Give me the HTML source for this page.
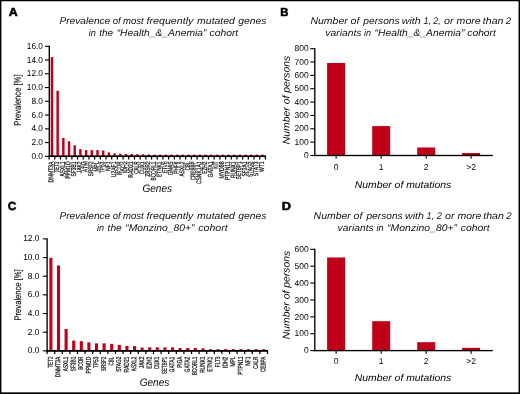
<!DOCTYPE html>
<html><head><meta charset="utf-8"><title>Figure</title>
<style>
html,body{margin:0;padding:0;background:#fff;}
svg{display:block;}
text{font-family:"Liberation Sans",sans-serif;text-rendering:geometricPrecision;}
</style></head><body>
<svg width="520" height="394" viewBox="0 0 520 394">
<defs><filter id="soft" x="0" y="0" width="520" height="394" filterUnits="userSpaceOnUse" color-interpolation-filters="sRGB"><feOffset dx="0" dy="0"/></filter></defs>
<rect x="0" y="0" width="520" height="394" fill="#fff"/>
<g filter="url(#soft)">
<rect x="-5" y="-5" width="530" height="404" fill="#fff"/>
<rect x="0.00" y="0.00" width="520.00" height="1.25" fill="#000"/>
<rect x="0.00" y="392.35" width="520.00" height="1.65" fill="#000"/>
<rect x="0.00" y="0.00" width="1.40" height="394.00" fill="#000"/>
<rect x="518.55" y="0.00" width="1.45" height="394.00" fill="#000"/>
<text x="8.75" y="16.30" font-size="11.75" text-anchor="start" fill="#000" font-weight="bold" textLength="9.00" lengthAdjust="spacingAndGlyphs" stroke="#000" stroke-width="0.55" stroke-linejoin="round">A</text>
<text x="280.30" y="16.30" font-size="11.75" text-anchor="start" fill="#000" font-weight="bold" textLength="8.20" lengthAdjust="spacingAndGlyphs" stroke="#000" stroke-width="0.55" stroke-linejoin="round">B</text>
<text x="7.75" y="210.10" font-size="11.75" text-anchor="start" fill="#000" font-weight="bold" textLength="8.60" lengthAdjust="spacingAndGlyphs" stroke="#000" stroke-width="0.55" stroke-linejoin="round">C</text>
<text x="281.80" y="209.65" font-size="11.75" text-anchor="start" fill="#000" font-weight="bold" textLength="9.20" lengthAdjust="spacingAndGlyphs" stroke="#000" stroke-width="0.55" stroke-linejoin="round">D</text>
<text x="59.45" y="23.85" font-size="9.7" text-anchor="start" fill="#111" font-style="italic" textLength="50.82" lengthAdjust="spacingAndGlyphs" >Prevalence</text>
<text x="112.69" y="23.85" font-size="9.7" text-anchor="start" fill="#111" font-style="italic" textLength="7.89" lengthAdjust="spacingAndGlyphs" >of</text>
<text x="122.96" y="23.85" font-size="9.7" text-anchor="start" fill="#111" font-style="italic" textLength="20.80" lengthAdjust="spacingAndGlyphs" >most</text>
<text x="146.53" y="23.85" font-size="9.7" text-anchor="start" fill="#111" font-style="italic" textLength="46.86" lengthAdjust="spacingAndGlyphs" >frequently</text>
<text x="197.14" y="23.85" font-size="9.7" text-anchor="start" fill="#111" font-style="italic" textLength="37.78" lengthAdjust="spacingAndGlyphs" >mutated</text>
<text x="238.37" y="23.85" font-size="9.7" text-anchor="start" fill="#111" font-style="italic" textLength="28.13" lengthAdjust="spacingAndGlyphs" >genes</text>
<text x="88.68" y="36.00" font-size="9.7" text-anchor="start" fill="#111" font-style="italic" textLength="7.10" lengthAdjust="spacingAndGlyphs" >in</text>
<text x="99.30" y="36.00" font-size="9.7" text-anchor="start" fill="#111" font-style="italic" textLength="13.80" lengthAdjust="spacingAndGlyphs" >the</text>
<text x="116.65" y="36.00" font-size="9.7" text-anchor="start" fill="#111" font-style="italic" textLength="89.75" lengthAdjust="spacingAndGlyphs" >“Health_&amp;_Anemia”</text>
<text x="209.56" y="36.00" font-size="9.7" text-anchor="start" fill="#111" font-style="italic" textLength="28.67" lengthAdjust="spacingAndGlyphs" >cohort</text>
<text x="59.45" y="219.00" font-size="9.7" text-anchor="start" fill="#111" font-style="italic" textLength="50.82" lengthAdjust="spacingAndGlyphs" >Prevalence</text>
<text x="112.69" y="219.00" font-size="9.7" text-anchor="start" fill="#111" font-style="italic" textLength="7.89" lengthAdjust="spacingAndGlyphs" >of</text>
<text x="122.96" y="219.00" font-size="9.7" text-anchor="start" fill="#111" font-style="italic" textLength="20.80" lengthAdjust="spacingAndGlyphs" >most</text>
<text x="146.53" y="219.00" font-size="9.7" text-anchor="start" fill="#111" font-style="italic" textLength="46.86" lengthAdjust="spacingAndGlyphs" >frequently</text>
<text x="197.14" y="219.00" font-size="9.7" text-anchor="start" fill="#111" font-style="italic" textLength="37.78" lengthAdjust="spacingAndGlyphs" >mutated</text>
<text x="238.37" y="219.00" font-size="9.7" text-anchor="start" fill="#111" font-style="italic" textLength="28.13" lengthAdjust="spacingAndGlyphs" >genes</text>
<text x="97.08" y="230.50" font-size="9.7" text-anchor="start" fill="#111" font-style="italic" textLength="7.10" lengthAdjust="spacingAndGlyphs" >in</text>
<text x="107.59" y="230.50" font-size="9.7" text-anchor="start" fill="#111" font-style="italic" textLength="14.17" lengthAdjust="spacingAndGlyphs" >the</text>
<text x="125.30" y="230.50" font-size="9.7" text-anchor="start" fill="#111" font-style="italic" textLength="69.12" lengthAdjust="spacingAndGlyphs" >“Monzino_80+”</text>
<text x="198.36" y="230.50" font-size="9.7" text-anchor="start" fill="#111" font-style="italic" textLength="29.27" lengthAdjust="spacingAndGlyphs" >cohort</text>
<text x="310.49" y="23.80" font-size="9.7" text-anchor="start" fill="#111" font-style="italic" textLength="37.27" lengthAdjust="spacingAndGlyphs" >Number</text>
<text x="350.52" y="23.80" font-size="9.7" text-anchor="start" fill="#111" font-style="italic" textLength="8.90" lengthAdjust="spacingAndGlyphs" >of</text>
<text x="363.35" y="23.80" font-size="9.7" text-anchor="start" fill="#111" font-style="italic" textLength="36.25" lengthAdjust="spacingAndGlyphs" >persons</text>
<text x="401.74" y="23.80" font-size="9.7" text-anchor="start" fill="#111" font-style="italic" textLength="18.98" lengthAdjust="spacingAndGlyphs" >with</text>
<text x="423.41" y="23.80" font-size="9.7" text-anchor="start" fill="#111" font-style="italic" textLength="7.60" lengthAdjust="spacingAndGlyphs" >1,</text>
<text x="433.31" y="23.80" font-size="9.7" text-anchor="start" fill="#111" font-style="italic" textLength="7.60" lengthAdjust="spacingAndGlyphs" >2,</text>
<text x="443.96" y="23.80" font-size="9.7" text-anchor="start" fill="#111" font-style="italic" textLength="9.49" lengthAdjust="spacingAndGlyphs" >or</text>
<text x="456.64" y="23.80" font-size="9.7" text-anchor="start" fill="#111" font-style="italic" textLength="24.04" lengthAdjust="spacingAndGlyphs" >more</text>
<text x="482.83" y="23.80" font-size="9.7" text-anchor="start" fill="#111" font-style="italic" textLength="20.54" lengthAdjust="spacingAndGlyphs" >than</text>
<text x="505.87" y="23.80" font-size="9.7" text-anchor="start" fill="#111" font-style="italic" textLength="5.36" lengthAdjust="spacingAndGlyphs" >2</text>
<text x="325.33" y="35.90" font-size="9.7" text-anchor="start" fill="#111" font-style="italic" textLength="36.06" lengthAdjust="spacingAndGlyphs" >variants</text>
<text x="363.98" y="35.90" font-size="9.7" text-anchor="start" fill="#111" font-style="italic" textLength="7.10" lengthAdjust="spacingAndGlyphs" >in</text>
<text x="374.55" y="35.90" font-size="9.7" text-anchor="start" fill="#111" font-style="italic" textLength="89.95" lengthAdjust="spacingAndGlyphs" >“Health_&amp;_Anemia”</text>
<text x="467.26" y="35.90" font-size="9.7" text-anchor="start" fill="#111" font-style="italic" textLength="28.67" lengthAdjust="spacingAndGlyphs" >cohort</text>
<text x="313.59" y="219.10" font-size="9.7" text-anchor="start" fill="#111" font-style="italic" textLength="37.27" lengthAdjust="spacingAndGlyphs" >Number</text>
<text x="353.62" y="219.10" font-size="9.7" text-anchor="start" fill="#111" font-style="italic" textLength="8.90" lengthAdjust="spacingAndGlyphs" >of</text>
<text x="366.45" y="219.10" font-size="9.7" text-anchor="start" fill="#111" font-style="italic" textLength="36.20" lengthAdjust="spacingAndGlyphs" >persons</text>
<text x="404.94" y="219.10" font-size="9.7" text-anchor="start" fill="#111" font-style="italic" textLength="18.98" lengthAdjust="spacingAndGlyphs" >with</text>
<text x="426.46" y="219.10" font-size="9.7" text-anchor="start" fill="#111" font-style="italic" textLength="7.60" lengthAdjust="spacingAndGlyphs" >1,</text>
<text x="436.87" y="219.10" font-size="9.7" text-anchor="start" fill="#111" font-style="italic" textLength="5.11" lengthAdjust="spacingAndGlyphs" >2</text>
<text x="445.08" y="219.10" font-size="9.7" text-anchor="start" fill="#111" font-style="italic" textLength="9.49" lengthAdjust="spacingAndGlyphs" >or</text>
<text x="457.44" y="219.10" font-size="9.7" text-anchor="start" fill="#111" font-style="italic" textLength="23.83" lengthAdjust="spacingAndGlyphs" >more</text>
<text x="483.27" y="219.10" font-size="9.7" text-anchor="start" fill="#111" font-style="italic" textLength="20.59" lengthAdjust="spacingAndGlyphs" >than</text>
<text x="506.22" y="219.10" font-size="9.7" text-anchor="start" fill="#111" font-style="italic" textLength="5.41" lengthAdjust="spacingAndGlyphs" >2</text>
<text x="337.63" y="230.50" font-size="9.7" text-anchor="start" fill="#111" font-style="italic" textLength="36.06" lengthAdjust="spacingAndGlyphs" >variants</text>
<text x="376.56" y="230.50" font-size="9.7" text-anchor="start" fill="#111" font-style="italic" textLength="7.13" lengthAdjust="spacingAndGlyphs" >in</text>
<text x="387.14" y="230.50" font-size="9.7" text-anchor="start" fill="#111" font-style="italic" textLength="69.98" lengthAdjust="spacingAndGlyphs" >“Monzino_80+”</text>
<text x="460.76" y="230.50" font-size="9.7" text-anchor="start" fill="#111" font-style="italic" textLength="28.97" lengthAdjust="spacingAndGlyphs" >cohort</text>
<rect x="48.62" y="45.75" width="1.35" height="111.23" fill="#000"/>
<rect x="45.00" y="155.75" width="4.30" height="1.10" fill="#000"/>
<text x="43.00" y="158.75" font-size="8.7" text-anchor="end" fill="#000" textLength="11.55" lengthAdjust="spacingAndGlyphs" >0.0</text>
<rect x="45.00" y="142.00" width="4.30" height="1.10" fill="#000"/>
<text x="43.00" y="145.00" font-size="8.7" text-anchor="end" fill="#000" textLength="11.55" lengthAdjust="spacingAndGlyphs" >2.0</text>
<rect x="45.00" y="128.25" width="4.30" height="1.10" fill="#000"/>
<text x="43.00" y="131.25" font-size="8.7" text-anchor="end" fill="#000" textLength="11.55" lengthAdjust="spacingAndGlyphs" >4.0</text>
<rect x="45.00" y="114.50" width="4.30" height="1.10" fill="#000"/>
<text x="43.00" y="117.50" font-size="8.7" text-anchor="end" fill="#000" textLength="11.55" lengthAdjust="spacingAndGlyphs" >6.0</text>
<rect x="45.00" y="100.75" width="4.30" height="1.10" fill="#000"/>
<text x="43.00" y="103.75" font-size="8.7" text-anchor="end" fill="#000" textLength="11.55" lengthAdjust="spacingAndGlyphs" >8.0</text>
<rect x="45.00" y="87.00" width="4.30" height="1.10" fill="#000"/>
<text x="43.00" y="90.00" font-size="8.7" text-anchor="end" fill="#000" textLength="16.15" lengthAdjust="spacingAndGlyphs" >10.0</text>
<rect x="45.00" y="73.25" width="4.30" height="1.10" fill="#000"/>
<text x="43.00" y="76.25" font-size="8.7" text-anchor="end" fill="#000" textLength="16.15" lengthAdjust="spacingAndGlyphs" >12.0</text>
<rect x="45.00" y="59.50" width="4.30" height="1.10" fill="#000"/>
<text x="43.00" y="62.50" font-size="8.7" text-anchor="end" fill="#000" textLength="16.15" lengthAdjust="spacingAndGlyphs" >14.0</text>
<rect x="45.00" y="45.75" width="4.30" height="1.10" fill="#000"/>
<text x="43.00" y="48.75" font-size="8.7" text-anchor="end" fill="#000" textLength="16.15" lengthAdjust="spacingAndGlyphs" >16.0</text>
<rect x="48.62" y="155.57" width="217.32" height="1.45" fill="#000"/>
<rect x="50.72" y="57.10" width="2.45" height="99.20" fill="#c00019"/>
<rect x="56.41" y="90.80" width="2.45" height="65.50" fill="#c00019"/>
<rect x="62.10" y="138.00" width="2.45" height="18.30" fill="#c00019"/>
<rect x="67.80" y="141.30" width="2.45" height="15.00" fill="#c00019"/>
<rect x="73.49" y="145.30" width="2.45" height="11.00" fill="#c00019"/>
<rect x="79.18" y="149.10" width="2.45" height="7.20" fill="#c00019"/>
<rect x="84.87" y="150.10" width="2.45" height="6.20" fill="#c00019"/>
<rect x="90.56" y="150.10" width="2.45" height="6.20" fill="#c00019"/>
<rect x="96.26" y="150.10" width="2.45" height="6.20" fill="#c00019"/>
<rect x="101.95" y="150.50" width="2.45" height="5.80" fill="#c00019"/>
<rect x="107.64" y="152.40" width="2.45" height="3.90" fill="#c00019"/>
<rect x="113.33" y="153.40" width="2.45" height="2.90" fill="#c00019"/>
<rect x="119.03" y="153.70" width="2.45" height="2.60" fill="#c00019"/>
<rect x="124.72" y="153.95" width="2.45" height="2.35" fill="#c00019"/>
<rect x="130.41" y="154.00" width="2.45" height="2.30" fill="#c00019"/>
<rect x="136.10" y="154.20" width="2.45" height="2.10" fill="#c00019"/>
<rect x="141.79" y="154.30" width="2.45" height="2.00" fill="#c00019"/>
<rect x="147.49" y="154.45" width="2.45" height="1.85" fill="#c00019"/>
<rect x="153.18" y="154.65" width="2.45" height="1.65" fill="#c00019"/>
<rect x="158.87" y="154.65" width="2.45" height="1.65" fill="#c00019"/>
<rect x="164.56" y="154.65" width="2.45" height="1.65" fill="#c00019"/>
<rect x="170.25" y="154.65" width="2.45" height="1.65" fill="#c00019"/>
<rect x="175.94" y="154.65" width="2.45" height="1.65" fill="#c00019"/>
<rect x="181.64" y="154.65" width="2.45" height="1.65" fill="#c00019"/>
<rect x="187.33" y="154.65" width="2.45" height="1.65" fill="#c00019"/>
<rect x="193.02" y="154.65" width="2.45" height="1.65" fill="#c00019"/>
<rect x="198.71" y="154.65" width="2.45" height="1.65" fill="#c00019"/>
<rect x="204.41" y="154.65" width="2.45" height="1.65" fill="#c00019"/>
<rect x="210.10" y="154.65" width="2.45" height="1.65" fill="#c00019"/>
<rect x="215.79" y="154.65" width="2.45" height="1.65" fill="#c00019"/>
<rect x="221.48" y="154.65" width="2.45" height="1.65" fill="#c00019"/>
<rect x="227.17" y="154.65" width="2.45" height="1.65" fill="#c00019"/>
<rect x="232.87" y="154.65" width="2.45" height="1.65" fill="#c00019"/>
<rect x="238.56" y="154.65" width="2.45" height="1.65" fill="#c00019"/>
<rect x="244.25" y="154.65" width="2.45" height="1.65" fill="#c00019"/>
<rect x="249.94" y="154.65" width="2.45" height="1.65" fill="#c00019"/>
<rect x="255.63" y="154.65" width="2.45" height="1.65" fill="#c00019"/>
<rect x="261.32" y="154.65" width="2.45" height="1.65" fill="#c00019"/>
<rect x="48.62" y="155.57" width="217.32" height="1.45" fill="#000"/>
<rect x="48.48" y="156.30" width="1.24" height="3.25" fill="#000"/>
<rect x="54.17" y="156.30" width="1.24" height="3.25" fill="#000"/>
<rect x="59.86" y="156.30" width="1.24" height="3.25" fill="#000"/>
<rect x="65.56" y="156.30" width="1.24" height="3.25" fill="#000"/>
<rect x="71.25" y="156.30" width="1.24" height="3.25" fill="#000"/>
<rect x="76.94" y="156.30" width="1.24" height="3.25" fill="#000"/>
<rect x="82.63" y="156.30" width="1.24" height="3.25" fill="#000"/>
<rect x="88.32" y="156.30" width="1.24" height="3.25" fill="#000"/>
<rect x="94.02" y="156.30" width="1.24" height="3.25" fill="#000"/>
<rect x="99.71" y="156.30" width="1.24" height="3.25" fill="#000"/>
<rect x="105.40" y="156.30" width="1.24" height="3.25" fill="#000"/>
<rect x="111.09" y="156.30" width="1.24" height="3.25" fill="#000"/>
<rect x="116.78" y="156.30" width="1.24" height="3.25" fill="#000"/>
<rect x="122.48" y="156.30" width="1.24" height="3.25" fill="#000"/>
<rect x="128.17" y="156.30" width="1.24" height="3.25" fill="#000"/>
<rect x="133.86" y="156.30" width="1.24" height="3.25" fill="#000"/>
<rect x="139.55" y="156.30" width="1.24" height="3.25" fill="#000"/>
<rect x="145.24" y="156.30" width="1.24" height="3.25" fill="#000"/>
<rect x="150.94" y="156.30" width="1.24" height="3.25" fill="#000"/>
<rect x="156.63" y="156.30" width="1.24" height="3.25" fill="#000"/>
<rect x="162.32" y="156.30" width="1.24" height="3.25" fill="#000"/>
<rect x="168.01" y="156.30" width="1.24" height="3.25" fill="#000"/>
<rect x="173.70" y="156.30" width="1.24" height="3.25" fill="#000"/>
<rect x="179.40" y="156.30" width="1.24" height="3.25" fill="#000"/>
<rect x="185.09" y="156.30" width="1.24" height="3.25" fill="#000"/>
<rect x="190.78" y="156.30" width="1.24" height="3.25" fill="#000"/>
<rect x="196.47" y="156.30" width="1.24" height="3.25" fill="#000"/>
<rect x="202.16" y="156.30" width="1.24" height="3.25" fill="#000"/>
<rect x="207.86" y="156.30" width="1.24" height="3.25" fill="#000"/>
<rect x="213.55" y="156.30" width="1.24" height="3.25" fill="#000"/>
<rect x="219.24" y="156.30" width="1.24" height="3.25" fill="#000"/>
<rect x="224.93" y="156.30" width="1.24" height="3.25" fill="#000"/>
<rect x="230.62" y="156.30" width="1.24" height="3.25" fill="#000"/>
<rect x="236.32" y="156.30" width="1.24" height="3.25" fill="#000"/>
<rect x="242.01" y="156.30" width="1.24" height="3.25" fill="#000"/>
<rect x="247.70" y="156.30" width="1.24" height="3.25" fill="#000"/>
<rect x="253.39" y="156.30" width="1.24" height="3.25" fill="#000"/>
<rect x="259.08" y="156.30" width="1.24" height="3.25" fill="#000"/>
<rect x="264.78" y="156.30" width="1.24" height="3.25" fill="#000"/>
<text font-size="7.0" text-anchor="end" fill="#111" textLength="20.99" lengthAdjust="spacingAndGlyphs" transform="translate(53.30,161.50) rotate(-89.95)" stroke="#111" stroke-width="0.24">DNMT3A</text>
<text font-size="7.0" text-anchor="end" fill="#111" textLength="11.09" lengthAdjust="spacingAndGlyphs" transform="translate(58.99,161.50) rotate(-89.95)" stroke="#111" stroke-width="0.24">TET2</text>
<text font-size="7.0" text-anchor="end" fill="#111" textLength="14.92" lengthAdjust="spacingAndGlyphs" transform="translate(64.68,161.50) rotate(-89.95)" stroke="#111" stroke-width="0.24">ASXL1</text>
<text font-size="7.0" text-anchor="end" fill="#111" textLength="17.23" lengthAdjust="spacingAndGlyphs" transform="translate(70.37,161.50) rotate(-89.95)" stroke="#111" stroke-width="0.24">PPM1D</text>
<text font-size="7.0" text-anchor="end" fill="#111" textLength="14.92" lengthAdjust="spacingAndGlyphs" transform="translate(76.06,161.50) rotate(-89.95)" stroke="#111" stroke-width="0.24">SF3B1</text>
<text font-size="7.0" text-anchor="end" fill="#111" textLength="11.81" lengthAdjust="spacingAndGlyphs" transform="translate(81.76,161.50) rotate(-89.95)" stroke="#111" stroke-width="0.24">JAK2</text>
<text font-size="7.0" text-anchor="end" fill="#111" textLength="10.63" lengthAdjust="spacingAndGlyphs" transform="translate(87.45,161.50) rotate(-89.95)" stroke="#111" stroke-width="0.24">ATM</text>
<text font-size="7.0" text-anchor="end" fill="#111" textLength="14.65" lengthAdjust="spacingAndGlyphs" transform="translate(93.14,161.50) rotate(-89.95)" stroke="#111" stroke-width="0.24">SRSF2</text>
<text font-size="7.0" text-anchor="end" fill="#111" textLength="10.10" lengthAdjust="spacingAndGlyphs" transform="translate(98.83,161.50) rotate(-89.95)" stroke="#111" stroke-width="0.24">MPL</text>
<text font-size="7.0" text-anchor="end" fill="#111" textLength="11.75" lengthAdjust="spacingAndGlyphs" transform="translate(104.52,161.50) rotate(-89.95)" stroke="#111" stroke-width="0.24">TP53</text>
<text font-size="7.0" text-anchor="end" fill="#111" textLength="9.44" lengthAdjust="spacingAndGlyphs" transform="translate(110.22,161.50) rotate(-89.95)" stroke="#111" stroke-width="0.24">NF1</text>
<text font-size="7.0" text-anchor="end" fill="#111" textLength="15.71" lengthAdjust="spacingAndGlyphs" transform="translate(115.91,161.50) rotate(-89.95)" stroke="#111" stroke-width="0.24">U2AF1</text>
<text font-size="7.0" text-anchor="end" fill="#111" textLength="13.46" lengthAdjust="spacingAndGlyphs" transform="translate(121.60,161.50) rotate(-89.95)" stroke="#111" stroke-width="0.24">BCOR</text>
<text font-size="7.0" text-anchor="end" fill="#111" textLength="11.55" lengthAdjust="spacingAndGlyphs" transform="translate(127.29,161.50) rotate(-89.95)" stroke="#111" stroke-width="0.24">IDH2</text>
<text font-size="7.0" text-anchor="end" fill="#111" textLength="16.24" lengthAdjust="spacingAndGlyphs" transform="translate(132.98,161.50) rotate(-89.95)" stroke="#111" stroke-width="0.24">RAD21</text>
<text font-size="7.0" text-anchor="end" fill="#111" textLength="12.28" lengthAdjust="spacingAndGlyphs" transform="translate(138.68,161.50) rotate(-89.95)" stroke="#111" stroke-width="0.24">CALR</text>
<text font-size="7.0" text-anchor="end" fill="#111" textLength="12.80" lengthAdjust="spacingAndGlyphs" transform="translate(144.37,161.50) rotate(-89.95)" stroke="#111" stroke-width="0.24">CUX1</text>
<text font-size="7.0" text-anchor="end" fill="#111" textLength="15.18" lengthAdjust="spacingAndGlyphs" transform="translate(150.06,161.50) rotate(-89.95)" stroke="#111" stroke-width="0.24">ZRSR2</text>
<text font-size="7.0" text-anchor="end" fill="#111" textLength="19.01" lengthAdjust="spacingAndGlyphs" transform="translate(155.75,161.50) rotate(-89.95)" stroke="#111" stroke-width="0.24">BCORL1</text>
<text font-size="7.0" text-anchor="end" fill="#111" textLength="15.38" lengthAdjust="spacingAndGlyphs" transform="translate(161.44,161.50) rotate(-89.95)" stroke="#111" stroke-width="0.24">ETNK1</text>
<text font-size="7.0" text-anchor="end" fill="#111" textLength="11.62" lengthAdjust="spacingAndGlyphs" transform="translate(167.14,161.50) rotate(-89.95)" stroke="#111" stroke-width="0.24">ETV6</text>
<text font-size="7.0" text-anchor="end" fill="#111" textLength="13.66" lengthAdjust="spacingAndGlyphs" transform="translate(172.83,161.50) rotate(-89.95)" stroke="#111" stroke-width="0.24">GNAS</text>
<text font-size="7.0" text-anchor="end" fill="#111" textLength="12.34" lengthAdjust="spacingAndGlyphs" transform="translate(178.52,161.50) rotate(-89.95)" stroke="#111" stroke-width="0.24">PHF6</text>
<text font-size="7.0" text-anchor="end" fill="#111" textLength="14.92" lengthAdjust="spacingAndGlyphs" transform="translate(184.21,161.50) rotate(-89.95)" stroke="#111" stroke-width="0.24">ASXL2</text>
<text font-size="7.0" text-anchor="end" fill="#111" textLength="8.98" lengthAdjust="spacingAndGlyphs" transform="translate(189.90,161.50) rotate(-89.95)" stroke="#111" stroke-width="0.24">CBL</text>
<text font-size="7.0" text-anchor="end" fill="#111" textLength="18.74" lengthAdjust="spacingAndGlyphs" transform="translate(195.60,161.50) rotate(-89.95)" stroke="#111" stroke-width="0.24">CREBBP</text>
<text font-size="7.0" text-anchor="end" fill="#111" textLength="22.51" lengthAdjust="spacingAndGlyphs" transform="translate(201.29,161.50) rotate(-89.95)" stroke="#111" stroke-width="0.24">CSNK1A1</text>
<text font-size="7.0" text-anchor="end" fill="#111" textLength="12.34" lengthAdjust="spacingAndGlyphs" transform="translate(206.98,161.50) rotate(-89.95)" stroke="#111" stroke-width="0.24">EZH2</text>
<text font-size="7.0" text-anchor="end" fill="#111" textLength="16.10" lengthAdjust="spacingAndGlyphs" transform="translate(212.67,161.50) rotate(-89.95)" stroke="#111" stroke-width="0.24">GATA1</text>
<text font-size="7.0" text-anchor="end" fill="#111" textLength="7.13" lengthAdjust="spacingAndGlyphs" transform="translate(218.36,161.50) rotate(-89.95)" stroke="#111" stroke-width="0.24">KIT</text>
<text font-size="7.0" text-anchor="end" fill="#111" textLength="17.09" lengthAdjust="spacingAndGlyphs" transform="translate(224.06,161.50) rotate(-89.95)" stroke="#111" stroke-width="0.24">MYD88</text>
<text font-size="7.0" text-anchor="end" fill="#111" textLength="18.55" lengthAdjust="spacingAndGlyphs" transform="translate(229.75,161.50) rotate(-89.95)" stroke="#111" stroke-width="0.24">PTPN11</text>
<text font-size="7.0" text-anchor="end" fill="#111" textLength="16.57" lengthAdjust="spacingAndGlyphs" transform="translate(235.44,161.50) rotate(-89.95)" stroke="#111" stroke-width="0.24">RUNX1</text>
<text font-size="7.0" text-anchor="end" fill="#111" textLength="17.69" lengthAdjust="spacingAndGlyphs" transform="translate(241.13,161.50) rotate(-89.95)" stroke="#111" stroke-width="0.24">SETBP1</text>
<text font-size="7.0" text-anchor="end" fill="#111" textLength="15.05" lengthAdjust="spacingAndGlyphs" transform="translate(246.82,161.50) rotate(-89.95)" stroke="#111" stroke-width="0.24">SF3A1</text>
<text font-size="7.0" text-anchor="end" fill="#111" textLength="15.58" lengthAdjust="spacingAndGlyphs" transform="translate(252.52,161.50) rotate(-89.95)" stroke="#111" stroke-width="0.24">STAG2</text>
<text font-size="7.0" text-anchor="end" fill="#111" textLength="14.65" lengthAdjust="spacingAndGlyphs" transform="translate(258.21,161.50) rotate(-89.95)" stroke="#111" stroke-width="0.24">STAT3</text>
<text font-size="7.0" text-anchor="end" fill="#111" textLength="10.43" lengthAdjust="spacingAndGlyphs" transform="translate(263.90,161.50) rotate(-89.95)" stroke="#111" stroke-width="0.24">WT1</text>
<text font-size="9.5" text-anchor="middle" fill="#000" textLength="51.20" lengthAdjust="spacingAndGlyphs" transform="translate(20.80,100.10) rotate(-89.96)" stroke="#000" stroke-width="0.12">Prevalence [%]</text>
<text x="157.20" y="191.95" font-size="10.9" text-anchor="middle" fill="#000" font-style="italic" textLength="29.60" lengthAdjust="spacingAndGlyphs" >Genes</text>
<rect x="46.43" y="238.35" width="1.35" height="113.18" fill="#000"/>
<rect x="42.80" y="350.30" width="4.30" height="1.10" fill="#000"/>
<text x="39.40" y="353.30" font-size="8.7" text-anchor="end" fill="#000" textLength="11.55" lengthAdjust="spacingAndGlyphs" >0.0</text>
<rect x="42.80" y="331.64" width="4.30" height="1.10" fill="#000"/>
<text x="39.40" y="334.64" font-size="8.7" text-anchor="end" fill="#000" textLength="11.55" lengthAdjust="spacingAndGlyphs" >2.0</text>
<rect x="42.80" y="312.98" width="4.30" height="1.10" fill="#000"/>
<text x="39.40" y="315.98" font-size="8.7" text-anchor="end" fill="#000" textLength="11.55" lengthAdjust="spacingAndGlyphs" >4.0</text>
<rect x="42.80" y="294.32" width="4.30" height="1.10" fill="#000"/>
<text x="39.40" y="297.32" font-size="8.7" text-anchor="end" fill="#000" textLength="11.55" lengthAdjust="spacingAndGlyphs" >6.0</text>
<rect x="42.80" y="275.67" width="4.30" height="1.10" fill="#000"/>
<text x="39.40" y="278.67" font-size="8.7" text-anchor="end" fill="#000" textLength="11.55" lengthAdjust="spacingAndGlyphs" >8.0</text>
<rect x="42.80" y="257.01" width="4.30" height="1.10" fill="#000"/>
<text x="39.40" y="260.01" font-size="8.7" text-anchor="end" fill="#000" textLength="16.15" lengthAdjust="spacingAndGlyphs" >10.0</text>
<rect x="42.80" y="238.35" width="4.30" height="1.10" fill="#000"/>
<text x="39.40" y="241.35" font-size="8.7" text-anchor="end" fill="#000" textLength="16.15" lengthAdjust="spacingAndGlyphs" >12.0</text>
<rect x="46.43" y="350.12" width="221.62" height="1.45" fill="#000"/>
<rect x="49.35" y="257.85" width="3.10" height="93.00" fill="#c00019"/>
<rect x="56.95" y="265.45" width="3.10" height="85.40" fill="#c00019"/>
<rect x="64.55" y="328.95" width="3.10" height="21.90" fill="#c00019"/>
<rect x="72.15" y="340.65" width="3.10" height="10.20" fill="#c00019"/>
<rect x="79.75" y="341.15" width="3.10" height="9.70" fill="#c00019"/>
<rect x="87.35" y="342.35" width="3.10" height="8.50" fill="#c00019"/>
<rect x="94.95" y="343.35" width="3.10" height="7.50" fill="#c00019"/>
<rect x="102.55" y="343.35" width="3.10" height="7.50" fill="#c00019"/>
<rect x="110.15" y="343.85" width="3.10" height="7.00" fill="#c00019"/>
<rect x="117.75" y="344.85" width="3.10" height="6.00" fill="#c00019"/>
<rect x="125.35" y="345.85" width="3.10" height="5.00" fill="#c00019"/>
<rect x="132.95" y="346.15" width="3.10" height="4.70" fill="#c00019"/>
<rect x="140.55" y="347.55" width="3.10" height="3.30" fill="#c00019"/>
<rect x="148.15" y="347.35" width="3.10" height="3.50" fill="#c00019"/>
<rect x="155.75" y="347.35" width="3.10" height="3.50" fill="#c00019"/>
<rect x="163.35" y="347.35" width="3.10" height="3.50" fill="#c00019"/>
<rect x="170.95" y="347.35" width="3.10" height="3.50" fill="#c00019"/>
<rect x="178.55" y="348.05" width="3.10" height="2.80" fill="#c00019"/>
<rect x="186.15" y="348.05" width="3.10" height="2.80" fill="#c00019"/>
<rect x="193.75" y="348.05" width="3.10" height="2.80" fill="#c00019"/>
<rect x="201.35" y="348.35" width="3.10" height="2.50" fill="#c00019"/>
<rect x="208.95" y="349.15" width="3.10" height="1.70" fill="#c00019"/>
<rect x="216.55" y="349.15" width="3.10" height="1.70" fill="#c00019"/>
<rect x="224.15" y="349.15" width="3.10" height="1.70" fill="#c00019"/>
<rect x="231.75" y="349.15" width="3.10" height="1.70" fill="#c00019"/>
<rect x="239.35" y="349.15" width="3.10" height="1.70" fill="#c00019"/>
<rect x="246.95" y="349.15" width="3.10" height="1.70" fill="#c00019"/>
<rect x="254.55" y="349.15" width="3.10" height="1.70" fill="#c00019"/>
<rect x="262.15" y="349.15" width="3.10" height="1.70" fill="#c00019"/>
<rect x="46.43" y="350.12" width="221.62" height="1.45" fill="#000"/>
<rect x="46.48" y="350.85" width="1.24" height="3.25" fill="#000"/>
<rect x="54.08" y="350.85" width="1.24" height="3.25" fill="#000"/>
<rect x="61.68" y="350.85" width="1.24" height="3.25" fill="#000"/>
<rect x="69.28" y="350.85" width="1.24" height="3.25" fill="#000"/>
<rect x="76.88" y="350.85" width="1.24" height="3.25" fill="#000"/>
<rect x="84.48" y="350.85" width="1.24" height="3.25" fill="#000"/>
<rect x="92.08" y="350.85" width="1.24" height="3.25" fill="#000"/>
<rect x="99.68" y="350.85" width="1.24" height="3.25" fill="#000"/>
<rect x="107.28" y="350.85" width="1.24" height="3.25" fill="#000"/>
<rect x="114.88" y="350.85" width="1.24" height="3.25" fill="#000"/>
<rect x="122.48" y="350.85" width="1.24" height="3.25" fill="#000"/>
<rect x="130.08" y="350.85" width="1.24" height="3.25" fill="#000"/>
<rect x="137.68" y="350.85" width="1.24" height="3.25" fill="#000"/>
<rect x="145.28" y="350.85" width="1.24" height="3.25" fill="#000"/>
<rect x="152.88" y="350.85" width="1.24" height="3.25" fill="#000"/>
<rect x="160.48" y="350.85" width="1.24" height="3.25" fill="#000"/>
<rect x="168.08" y="350.85" width="1.24" height="3.25" fill="#000"/>
<rect x="175.68" y="350.85" width="1.24" height="3.25" fill="#000"/>
<rect x="183.28" y="350.85" width="1.24" height="3.25" fill="#000"/>
<rect x="190.88" y="350.85" width="1.24" height="3.25" fill="#000"/>
<rect x="198.48" y="350.85" width="1.24" height="3.25" fill="#000"/>
<rect x="206.08" y="350.85" width="1.24" height="3.25" fill="#000"/>
<rect x="213.68" y="350.85" width="1.24" height="3.25" fill="#000"/>
<rect x="221.28" y="350.85" width="1.24" height="3.25" fill="#000"/>
<rect x="228.88" y="350.85" width="1.24" height="3.25" fill="#000"/>
<rect x="236.48" y="350.85" width="1.24" height="3.25" fill="#000"/>
<rect x="244.08" y="350.85" width="1.24" height="3.25" fill="#000"/>
<rect x="251.68" y="350.85" width="1.24" height="3.25" fill="#000"/>
<rect x="259.28" y="350.85" width="1.24" height="3.25" fill="#000"/>
<rect x="266.88" y="350.85" width="1.24" height="3.25" fill="#000"/>
<text font-size="7.0" text-anchor="end" fill="#111" textLength="10.84" lengthAdjust="spacingAndGlyphs" transform="translate(52.70,356.65) rotate(-89.95)" stroke="#111" stroke-width="0.24">TET2</text>
<text font-size="7.0" text-anchor="end" fill="#111" textLength="20.51" lengthAdjust="spacingAndGlyphs" transform="translate(60.30,356.65) rotate(-89.95)" stroke="#111" stroke-width="0.24">DNMT3A</text>
<text font-size="7.0" text-anchor="end" fill="#111" textLength="14.58" lengthAdjust="spacingAndGlyphs" transform="translate(67.90,356.65) rotate(-89.95)" stroke="#111" stroke-width="0.24">ASXL1</text>
<text font-size="7.0" text-anchor="end" fill="#111" textLength="14.58" lengthAdjust="spacingAndGlyphs" transform="translate(75.50,356.65) rotate(-89.95)" stroke="#111" stroke-width="0.24">SF3B1</text>
<text font-size="7.0" text-anchor="end" fill="#111" textLength="13.16" lengthAdjust="spacingAndGlyphs" transform="translate(83.10,356.65) rotate(-89.95)" stroke="#111" stroke-width="0.24">BCOR</text>
<text font-size="7.0" text-anchor="end" fill="#111" textLength="16.83" lengthAdjust="spacingAndGlyphs" transform="translate(90.70,356.65) rotate(-89.95)" stroke="#111" stroke-width="0.24">PPM1D</text>
<text font-size="7.0" text-anchor="end" fill="#111" textLength="11.48" lengthAdjust="spacingAndGlyphs" transform="translate(98.30,356.65) rotate(-89.95)" stroke="#111" stroke-width="0.24">TP53</text>
<text font-size="7.0" text-anchor="end" fill="#111" textLength="14.32" lengthAdjust="spacingAndGlyphs" transform="translate(105.90,356.65) rotate(-89.95)" stroke="#111" stroke-width="0.24">SRSF2</text>
<text font-size="7.0" text-anchor="end" fill="#111" textLength="8.77" lengthAdjust="spacingAndGlyphs" transform="translate(113.50,356.65) rotate(-89.95)" stroke="#111" stroke-width="0.24">CBL</text>
<text font-size="7.0" text-anchor="end" fill="#111" textLength="15.22" lengthAdjust="spacingAndGlyphs" transform="translate(121.10,356.65) rotate(-89.95)" stroke="#111" stroke-width="0.24">STAG2</text>
<text font-size="7.0" text-anchor="end" fill="#111" textLength="15.87" lengthAdjust="spacingAndGlyphs" transform="translate(128.70,356.65) rotate(-89.95)" stroke="#111" stroke-width="0.24">RAD21</text>
<text font-size="7.0" text-anchor="end" fill="#111" textLength="14.58" lengthAdjust="spacingAndGlyphs" transform="translate(136.30,356.65) rotate(-89.95)" stroke="#111" stroke-width="0.24">ASXL2</text>
<text font-size="7.0" text-anchor="end" fill="#111" textLength="11.55" lengthAdjust="spacingAndGlyphs" transform="translate(143.90,356.65) rotate(-89.95)" stroke="#111" stroke-width="0.24">JAK2</text>
<text font-size="7.0" text-anchor="end" fill="#111" textLength="12.06" lengthAdjust="spacingAndGlyphs" transform="translate(151.50,356.65) rotate(-89.95)" stroke="#111" stroke-width="0.24">EZH2</text>
<text font-size="7.0" text-anchor="end" fill="#111" textLength="12.51" lengthAdjust="spacingAndGlyphs" transform="translate(159.10,356.65) rotate(-89.95)" stroke="#111" stroke-width="0.24">CUX1</text>
<text font-size="7.0" text-anchor="end" fill="#111" textLength="17.29" lengthAdjust="spacingAndGlyphs" transform="translate(166.70,356.65) rotate(-89.95)" stroke="#111" stroke-width="0.24">SETBP1</text>
<text font-size="7.0" text-anchor="end" fill="#111" textLength="15.74" lengthAdjust="spacingAndGlyphs" transform="translate(174.30,356.65) rotate(-89.95)" stroke="#111" stroke-width="0.24">GATA1</text>
<text font-size="7.0" text-anchor="end" fill="#111" textLength="11.09" lengthAdjust="spacingAndGlyphs" transform="translate(181.90,356.65) rotate(-89.95)" stroke="#111" stroke-width="0.24">PIGA</text>
<text font-size="7.0" text-anchor="end" fill="#111" textLength="15.74" lengthAdjust="spacingAndGlyphs" transform="translate(189.50,356.65) rotate(-89.95)" stroke="#111" stroke-width="0.24">GATA2</text>
<text font-size="7.0" text-anchor="end" fill="#111" textLength="18.58" lengthAdjust="spacingAndGlyphs" transform="translate(197.10,356.65) rotate(-89.95)" stroke="#111" stroke-width="0.24">BCORL1</text>
<text font-size="7.0" text-anchor="end" fill="#111" textLength="16.19" lengthAdjust="spacingAndGlyphs" transform="translate(204.70,356.65) rotate(-89.95)" stroke="#111" stroke-width="0.24">RUNX1</text>
<text font-size="7.0" text-anchor="end" fill="#111" textLength="15.03" lengthAdjust="spacingAndGlyphs" transform="translate(212.30,356.65) rotate(-89.95)" stroke="#111" stroke-width="0.24">ETNK1</text>
<text font-size="7.0" text-anchor="end" fill="#111" textLength="10.58" lengthAdjust="spacingAndGlyphs" transform="translate(219.90,356.65) rotate(-89.95)" stroke="#111" stroke-width="0.24">FLT3</text>
<text font-size="7.0" text-anchor="end" fill="#111" textLength="11.29" lengthAdjust="spacingAndGlyphs" transform="translate(227.50,356.65) rotate(-89.95)" stroke="#111" stroke-width="0.24">IDH2</text>
<text font-size="7.0" text-anchor="end" fill="#111" textLength="9.87" lengthAdjust="spacingAndGlyphs" transform="translate(235.10,356.65) rotate(-89.95)" stroke="#111" stroke-width="0.24">MPL</text>
<text font-size="7.0" text-anchor="end" fill="#111" textLength="18.12" lengthAdjust="spacingAndGlyphs" transform="translate(242.70,356.65) rotate(-89.95)" stroke="#111" stroke-width="0.24">PTPN11</text>
<text font-size="7.0" text-anchor="end" fill="#111" textLength="9.22" lengthAdjust="spacingAndGlyphs" transform="translate(250.30,356.65) rotate(-89.95)" stroke="#111" stroke-width="0.24">NF1</text>
<text font-size="7.0" text-anchor="end" fill="#111" textLength="12.00" lengthAdjust="spacingAndGlyphs" transform="translate(257.90,356.65) rotate(-89.95)" stroke="#111" stroke-width="0.24">CALR</text>
<text font-size="7.0" text-anchor="end" fill="#111" textLength="15.35" lengthAdjust="spacingAndGlyphs" transform="translate(265.50,356.65) rotate(-89.95)" stroke="#111" stroke-width="0.24">CEBPA</text>
<text font-size="9.5" text-anchor="middle" fill="#000" textLength="51.20" lengthAdjust="spacingAndGlyphs" transform="translate(21.10,294.90) rotate(-89.96)" stroke="#000" stroke-width="0.12">Prevalence [%]</text>
<text x="154.50" y="385.75" font-size="10.9" text-anchor="middle" fill="#000" font-style="italic" textLength="29.60" lengthAdjust="spacingAndGlyphs" >Genes</text>
<rect x="314.12" y="48.10" width="1.35" height="108.08" fill="#000"/>
<rect x="310.30" y="154.95" width="4.50" height="1.10" fill="#000"/>
<text x="308.70" y="158.20" font-size="8.5" text-anchor="end" fill="#000" textLength="4.70" lengthAdjust="spacingAndGlyphs" >0</text>
<rect x="310.30" y="141.59" width="4.50" height="1.10" fill="#000"/>
<text x="308.70" y="144.84" font-size="8.5" text-anchor="end" fill="#000" textLength="14.10" lengthAdjust="spacingAndGlyphs" >100</text>
<rect x="310.30" y="128.24" width="4.50" height="1.10" fill="#000"/>
<text x="308.70" y="131.49" font-size="8.5" text-anchor="end" fill="#000" textLength="14.10" lengthAdjust="spacingAndGlyphs" >200</text>
<rect x="310.30" y="114.88" width="4.50" height="1.10" fill="#000"/>
<text x="308.70" y="118.13" font-size="8.5" text-anchor="end" fill="#000" textLength="14.10" lengthAdjust="spacingAndGlyphs" >300</text>
<rect x="310.30" y="101.53" width="4.50" height="1.10" fill="#000"/>
<text x="308.70" y="104.78" font-size="8.5" text-anchor="end" fill="#000" textLength="14.10" lengthAdjust="spacingAndGlyphs" >400</text>
<rect x="310.30" y="88.17" width="4.50" height="1.10" fill="#000"/>
<text x="308.70" y="91.42" font-size="8.5" text-anchor="end" fill="#000" textLength="14.10" lengthAdjust="spacingAndGlyphs" >500</text>
<rect x="310.30" y="74.81" width="4.50" height="1.10" fill="#000"/>
<text x="308.70" y="78.06" font-size="8.5" text-anchor="end" fill="#000" textLength="14.10" lengthAdjust="spacingAndGlyphs" >600</text>
<rect x="310.30" y="61.46" width="4.50" height="1.10" fill="#000"/>
<text x="308.70" y="64.71" font-size="8.5" text-anchor="end" fill="#000" textLength="14.10" lengthAdjust="spacingAndGlyphs" >700</text>
<rect x="310.30" y="48.10" width="4.50" height="1.10" fill="#000"/>
<text x="308.70" y="51.35" font-size="8.5" text-anchor="end" fill="#000" textLength="14.10" lengthAdjust="spacingAndGlyphs" >800</text>
<rect x="327.10" y="63.00" width="18.00" height="92.50" fill="#c00019"/>
<rect x="372.20" y="126.10" width="18.00" height="29.40" fill="#c00019"/>
<rect x="417.20" y="147.50" width="18.00" height="8.00" fill="#c00019"/>
<rect x="462.10" y="153.00" width="18.00" height="2.50" fill="#c00019"/>
<rect x="314.12" y="154.82" width="178.68" height="1.35" fill="#000"/>
<rect x="335.55" y="155.50" width="1.10" height="3.20" fill="#000"/>
<text x="336.10" y="169.70" font-size="8.5" text-anchor="middle" fill="#000" >0</text>
<rect x="380.65" y="155.50" width="1.10" height="3.20" fill="#000"/>
<text x="381.20" y="169.70" font-size="8.5" text-anchor="middle" fill="#000" >1</text>
<rect x="425.65" y="155.50" width="1.10" height="3.20" fill="#000"/>
<text x="426.20" y="169.70" font-size="8.5" text-anchor="middle" fill="#000" >2</text>
<rect x="470.55" y="155.50" width="1.10" height="3.20" fill="#000"/>
<text x="471.10" y="169.70" font-size="8.5" text-anchor="middle" fill="#000" >&gt;2</text>
<text font-size="9.8" text-anchor="middle" fill="#000" font-style="italic" textLength="88.50" lengthAdjust="spacingAndGlyphs" transform="translate(289.60,100.00) rotate(-89.96)" >Number of persons</text>
<text x="403.00" y="187.75" font-size="9.8" text-anchor="middle" fill="#000" font-style="italic" textLength="96.40" lengthAdjust="spacingAndGlyphs" >Number of mutations</text>
<rect x="314.12" y="248.75" width="1.35" height="102.53" fill="#000"/>
<rect x="310.30" y="350.05" width="4.50" height="1.10" fill="#000"/>
<text x="308.70" y="353.30" font-size="8.5" text-anchor="end" fill="#000" textLength="4.70" lengthAdjust="spacingAndGlyphs" >0</text>
<rect x="310.30" y="333.17" width="4.50" height="1.10" fill="#000"/>
<text x="308.70" y="336.42" font-size="8.5" text-anchor="end" fill="#000" textLength="14.10" lengthAdjust="spacingAndGlyphs" >100</text>
<rect x="310.30" y="316.28" width="4.50" height="1.10" fill="#000"/>
<text x="308.70" y="319.53" font-size="8.5" text-anchor="end" fill="#000" textLength="14.10" lengthAdjust="spacingAndGlyphs" >200</text>
<rect x="310.30" y="299.40" width="4.50" height="1.10" fill="#000"/>
<text x="308.70" y="302.65" font-size="8.5" text-anchor="end" fill="#000" textLength="14.10" lengthAdjust="spacingAndGlyphs" >300</text>
<rect x="310.30" y="282.52" width="4.50" height="1.10" fill="#000"/>
<text x="308.70" y="285.77" font-size="8.5" text-anchor="end" fill="#000" textLength="14.10" lengthAdjust="spacingAndGlyphs" >400</text>
<rect x="310.30" y="265.63" width="4.50" height="1.10" fill="#000"/>
<text x="308.70" y="268.88" font-size="8.5" text-anchor="end" fill="#000" textLength="14.10" lengthAdjust="spacingAndGlyphs" >500</text>
<rect x="310.30" y="248.75" width="4.50" height="1.10" fill="#000"/>
<text x="308.70" y="252.00" font-size="8.5" text-anchor="end" fill="#000" textLength="14.10" lengthAdjust="spacingAndGlyphs" >600</text>
<rect x="327.10" y="257.50" width="18.00" height="93.10" fill="#c00019"/>
<rect x="372.20" y="321.20" width="18.00" height="29.40" fill="#c00019"/>
<rect x="417.20" y="342.20" width="18.00" height="8.40" fill="#c00019"/>
<rect x="462.10" y="347.80" width="18.00" height="2.80" fill="#c00019"/>
<rect x="314.12" y="349.93" width="178.68" height="1.35" fill="#000"/>
<rect x="335.55" y="350.60" width="1.10" height="3.20" fill="#000"/>
<text x="336.10" y="364.40" font-size="8.5" text-anchor="middle" fill="#000" >0</text>
<rect x="380.65" y="350.60" width="1.10" height="3.20" fill="#000"/>
<text x="381.20" y="364.40" font-size="8.5" text-anchor="middle" fill="#000" >1</text>
<rect x="425.65" y="350.60" width="1.10" height="3.20" fill="#000"/>
<text x="426.20" y="364.40" font-size="8.5" text-anchor="middle" fill="#000" >2</text>
<rect x="470.55" y="350.60" width="1.10" height="3.20" fill="#000"/>
<text x="471.10" y="364.40" font-size="8.5" text-anchor="middle" fill="#000" >&gt;2</text>
<text font-size="9.8" text-anchor="middle" fill="#000" font-style="italic" textLength="88.50" lengthAdjust="spacingAndGlyphs" transform="translate(289.60,295.00) rotate(-89.96)" >Number of persons</text>
<text x="403.00" y="380.80" font-size="9.8" text-anchor="middle" fill="#000" font-style="italic" textLength="96.40" lengthAdjust="spacingAndGlyphs" >Number of mutations</text>
</g>
</svg>
</body></html>
